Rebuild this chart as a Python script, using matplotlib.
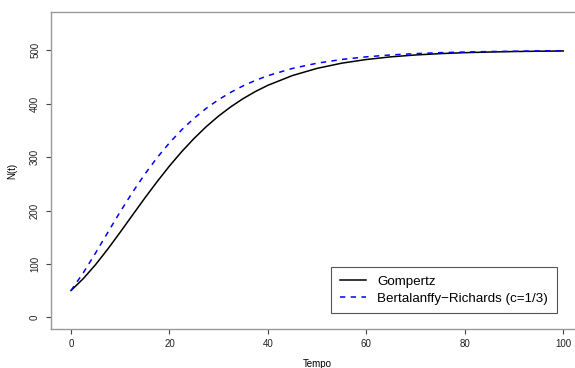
import matplotlib.pyplot as plt

plt.rcParams['font.family'] = ['Liberation Sans', 'DejaVu Sans']

# Time points (Tempo)
tempo = [0, 2.5, 5, 7.5, 10, 12.5, 15, 17.5, 20, 22.5, 25, 27.5, 30, 32.5,
         35, 37.5, 40, 45, 50, 55, 60, 65, 70, 75, 80, 85, 90, 95, 100]

# Gompertz curve N(t)
gompertz = [50.0, 72.4, 98.7, 128.1, 159.4, 191.5, 223.4, 254.2, 283.4,
            310.4, 335.1, 357.4, 377.2, 394.6, 409.9, 423.2, 434.7, 453.0,
            466.4, 476.1, 483.0, 488.0, 491.5, 494.0, 495.8, 497.0, 497.9,
            498.5, 499.0]

# Bertalanffy-Richards curve (c=1/3)
bert_rich = [50.0, 83.3, 120.6, 159.3, 197.7, 234.2, 268.2, 299.1, 326.8,
             351.4, 372.9, 391.7, 407.9, 421.8, 433.8, 444.0, 452.7, 466.3,
             476.1, 483.1, 488.0, 491.6, 494.0, 495.8, 497.0, 497.9, 498.5,
             499.0, 499.3]

x_ticks = [0, 20, 40, 60, 80, 100]
y_ticks = [0, 100, 200, 300, 400, 500]

fig = plt.figure(figsize=(5.75, 3.68), dpi=100)
# right edge of the box lies outside the picture in the reference
ax = fig.add_axes([51.3 / 575, 39 / 368, (583 - 51.3) / 575, (329 - 12) / 368])

ax.plot(tempo, gompertz, color="black", lw=1.1, label="Gompertz")
ax.plot(tempo, bert_rich, color="#0000ff", lw=1.1, dashes=(3.5, 3.5),
        label="Bertalanffy\u2212Richards (c=1/3)")

ax.set_xlim(-4, 104)
ax.set_ylim(-22, 572)
ax.set_xticks(x_ticks)
ax.set_yticks(y_ticks)
ax.set_yticklabels([str(v) for v in y_ticks], rotation=90, va="center")
ax.tick_params(axis="both", length=3.6, width=0.8, color="#444444",
               labelsize=7, labelcolor="#222222")
ax.tick_params(axis="x", pad=3.5)
ax.tick_params(axis="y", pad=4.5)

for s in ax.spines.values():
    s.set_color("#999999")
    s.set_linewidth(1.0)

ax.set_xlabel("Tempo", fontsize=7, labelpad=7)
ax.set_ylabel("N(t)", fontsize=7, labelpad=9)

leg = ax.legend(loc="lower right", bbox_to_anchor=(557 / 575, 54.7 / 368),
                bbox_transform=fig.transFigure, fontsize=9.6, fancybox=False,
                framealpha=1, edgecolor="#555555", handlelength=1.95,
                borderpad=0.65, labelspacing=0.35, handletextpad=0.85,
                borderaxespad=0)
leg.get_frame().set_linewidth(0.8)

plt.savefig("out.png", dpi=100)
